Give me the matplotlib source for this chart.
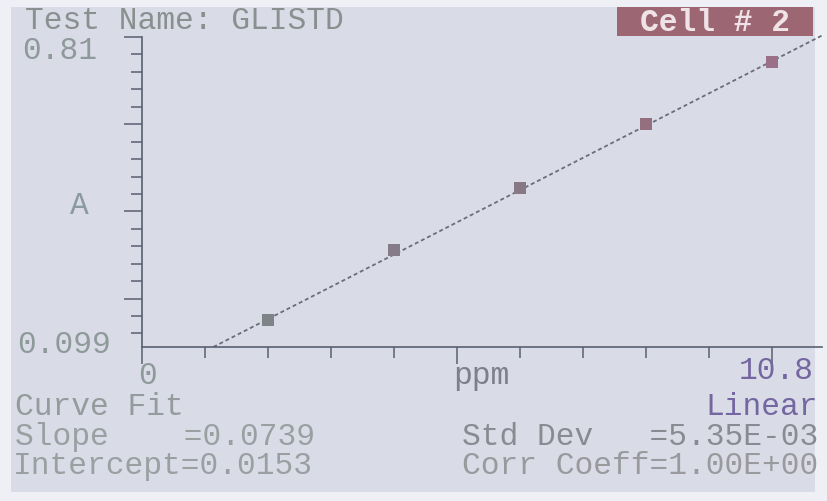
import matplotlib
matplotlib.use("Agg")
import matplotlib.pyplot as plt
from matplotlib.patches import Rectangle
import numpy as np

# ---- data ----
conc_ppm = [2, 4, 6, 8, 10]
absorbance = [0.160, 0.321, 0.463, 0.610, 0.752]
slope = 0.0739
intercept = 0.0153
x_min, x_max = 0.0, 10.8
y_min, y_max = 0.099, 0.81
x_ticks = list(range(0, 11))
y_ticks = [round(0.81 - 0.04 * k, 2) for k in range(18)]

W, H = 828, 502
FONT = ["Liberation Mono", "DejaVu Sans Mono"]
FS = 22.5

fig = plt.figure(figsize=(W / 100, H / 100), dpi=100)
fig.patch.set_facecolor("#eef0f5")


def P(x, y):
    return (x / W, 1 - y / H)


# screen area
fig.add_artist(Rectangle(P(11, 493), (815 - 11) / W, (493 - 8) / H,
                         transform=fig.transFigure, facecolor="#d9dbe6",
                         edgecolor="none", zorder=0))

ax = fig.add_axes([142 / W, (H - 348) / H, (822 - 142) / W, (348 - 38) / H])
ax.set_facecolor("none")
ax.set_xlim(x_min, x_max)
ax.set_ylim(y_min, y_max)
for s in ["top", "right"]:
    ax.spines[s].set_visible(False)
axis_col = "#586070"
for s in ["left", "bottom"]:
    ax.spines[s].set_color(axis_col)
    ax.spines[s].set_linewidth(1.2)

ax.set_xticks(x_ticks)
ax.set_yticks(y_ticks)
ax.set_xticklabels([])
ax.set_yticklabels([])
ax.tick_params(axis="both", direction="out", color=axis_col, width=1.1)
ax.tick_params(axis="x", length=8)
ax.tick_params(axis="y", length=8)
# long ticks every 5th
for i, t in enumerate(ax.xaxis.get_major_ticks()):
    if x_ticks[i] % 5 == 0:
        t.tick1line.set_markersize(12)
for i, t in enumerate(ax.yaxis.get_major_ticks()):
    if i % 5 == 0:
        t.tick1line.set_markersize(13)

# fit line
x0 = (y_min - intercept) / slope
xf = np.linspace(x0, x_max, 50)
ax.plot(xf, intercept + slope * xf, color="#6b6d7c", lw=1.3,
        linestyle=(0, (2.2, 1.6)), clip_on=False, zorder=2)

# markers
mcolors = ["#7e8388", "#867b88", "#887886", "#94707f", "#9b6f88"]
for xv, yv, c in zip(conc_ppm, absorbance, mcolors):
    ax.plot([xv], [yv], marker="s", markersize=8.6, color=c,
            markeredgewidth=0, linestyle="none", zorder=3)

gray = "#8d9396"
purple = "#7466a0"


def T(x, y, s, ha="left", va="baseline", color=gray, **kw):
    fig.text(*P(x, y), s, ha=ha, va=va, color=color, family=FONT,
             fontsize=kw.pop("fs", FS), **kw)


T(25, 29, "Test Name: GLISTD", color="#8a8f90")

# Cell box
fig.add_artist(Rectangle(P(617, 37), (813 - 617) / W, (37 - 8) / H,
                         transform=fig.transFigure, facecolor="#9c6673",
                         edgecolor="none", zorder=1))
T(715, 23, "Cell # 2", ha="center", va="center", color="#efe3e7",
  fontweight="bold")

T(22, 51, "0.81", va="center", color="#8e9a9a")
T(17, 345, "0.099", va="center", color="#8e9a9a")
T(79, 206, "A", ha="center", va="center", color="#8a9aa0")
T(147, 376, "0", ha="center", va="center", color="#8e9a9a")
T(453, 384, "ppm", color="#7d7f8a")
T(814, 371, "10.8", ha="right", va="center", color=purple)

T(15, 415, "Curve Fit", color="#959b9c")
T(818, 415, "Linear", ha="right", color=purple)
T(15, 445, "Slope    =0.0739", color="#9aa0a2")
T(13, 474, "Intercept=0.0153", color="#9aa0a2")
T(818, 445, "Std Dev   =5.35E-03", ha="right", color="#8a8a92")
T(818, 474, "Corr Coeff=1.00E+00", ha="right", color="#9a9a9e")

fig.savefig("out.png", dpi=100, facecolor=fig.get_facecolor())
